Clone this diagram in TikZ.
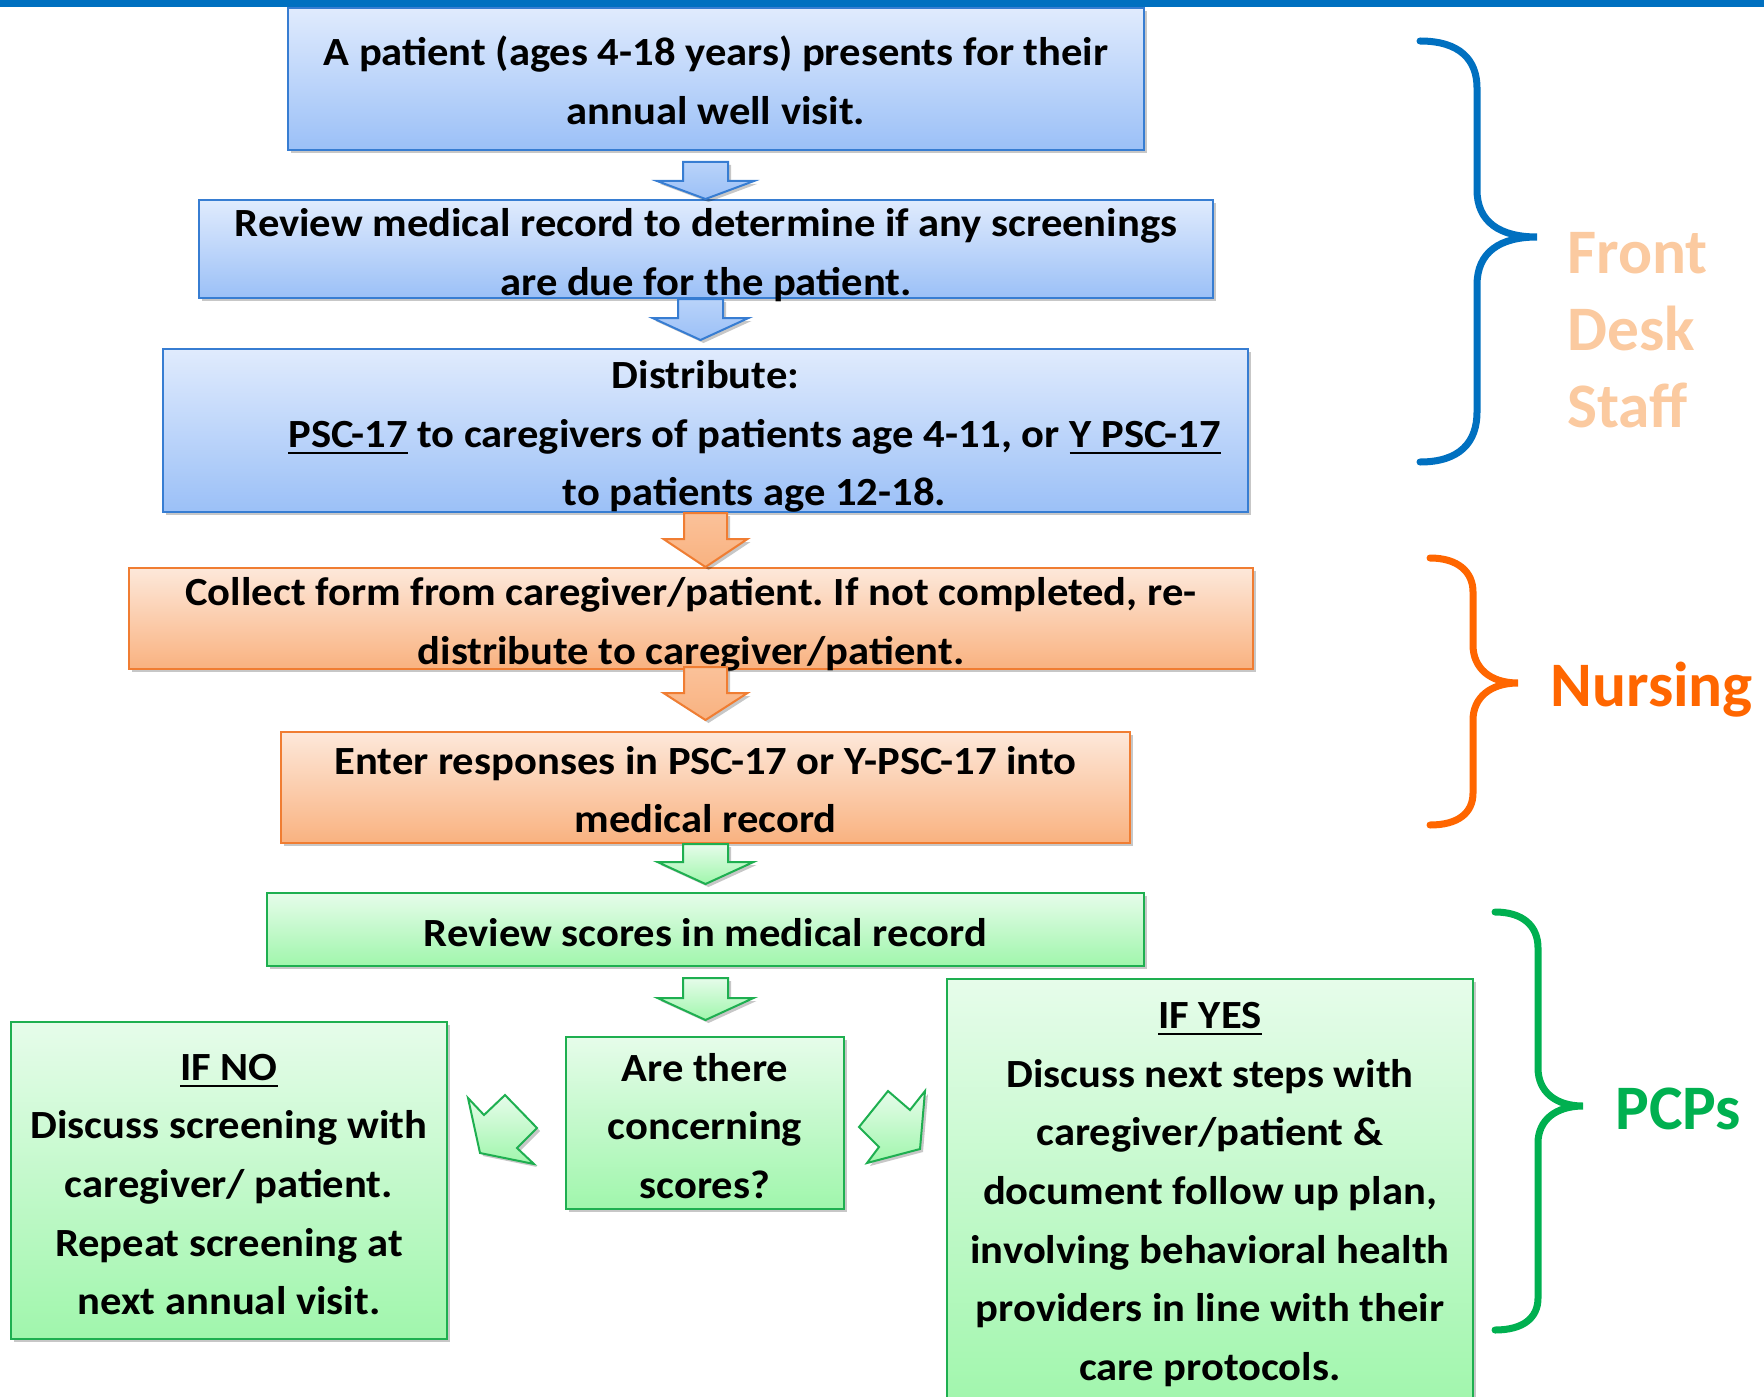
\documentclass[tikz,border=0pt]{standalone}
\usepackage{fontspec}
\setmainfont{Carlito}
\newfontfamily\boxfamily{Carlito}[FakeStretch=1.065]
\usetikzlibrary{calc,shadows}

\definecolor{barblue}{RGB}{0,112,192}
\definecolor{bluedge}{RGB}{55,125,210}
\definecolor{bluetop}{RGB}{224,235,253}
\definecolor{bluebot}{RGB}{155,192,247}
\definecolor{orgedge}{RGB}{240,125,50}
\definecolor{orgtop}{RGB}{253,232,218}
\definecolor{orgbot}{RGB}{249,178,128}
\definecolor{grnedge}{RGB}{30,175,80}
\definecolor{grntop}{RGB}{230,252,234}
\definecolor{grnbot}{RGB}{160,246,172}
\definecolor{braceorange}{RGB}{255,102,0}
\definecolor{bracegreen}{RGB}{0,176,80}
\definecolor{frontpeach}{RGB}{251,202,160}

\newcommand\boxfont{\boxfamily\bfseries\fontsize{20}{29.35}\selectfont\frenchspacing}
\newcommand\labelfont{\bfseries\fontsize{31.7}{38.5}\selectfont}
% thick underline for the form names and branch headings
\newcommand\ulx[1]{\setbox0=\hbox{#1}\leavevmode\rlap{\rule[-3.5pt]{\wd0}{1.2pt}}\box0\relax}

% downward block arrow: style, start point, tip point, head length, shaft half width, head half width
\newcommand\blockarrow[6]{%
  \path[#1] let \p1=#2, \p2=#3 in
    (\x2-#5,\y1) -- (\x2+#5,\y1) -- (\x2+#5,\y2+#4) -- (\x2+#6,\y2+#4)
    -- (\x2,\y2) -- (\x2-#6,\y2+#4) -- (\x2-#5,\y2+#4) -- cycle;}

\tikzset{
  shade/.style={drop shadow={shadow xshift=1.5pt, shadow yshift=-1.5pt, fill=black, opacity=0.22}},
  stepbox/.style={rectangle, inner sep=0pt, line width=1pt, shade},
  steptext/.style={inner sep=0pt, align=center, font=\boxfont},
  bluebox/.style={stepbox, draw=bluedge, top color=bluetop, bottom color=bluebot},
  orgbox/.style={stepbox, draw=orgedge, top color=orgtop, bottom color=orgbot},
  grnbox/.style={stepbox, draw=grnedge, top color=grntop, bottom color=grnbot},
  bluearrow/.style={draw=bluedge, line width=1pt, top color=bluebot!70!white, bottom color=bluebot, shade},
  orgarrow/.style={draw=orgedge, line width=1pt, top color=orgbot!80!white, bottom color=orgbot, shade},
  grnarrow/.style={draw=grnedge, line width=1pt, top color=grntop, bottom color=grnbot, shade},
  brace/.style={line width=3.5pt, line cap=round},
  rolelabel/.style={anchor=base west, font=\labelfont, align=left, inner sep=0pt},
}

\begin{document}
\begin{tikzpicture}[x=0.5pt, y=-0.5pt]
\useasboundingbox (0,0) rectangle (1764,1396);
\clip (0,0) rectangle (1764,1396);

% top rule
\fill[barblue] (0,0) rectangle (1764,7);

% process step boxes
\node[bluebox, minimum width=428pt, minimum height=71pt] (b1) at (716,79) {};
\node[bluebox, minimum width=507pt, minimum height=49pt] (b2) at (706,249) {};
\node[bluebox, minimum width=542.5pt, minimum height=81.5pt] (b3) at (705.5,430.5) {};
\node[orgbox, minimum width=562pt, minimum height=50.5pt] (b4) at (691,618.5) {};
\node[orgbox, minimum width=424.5pt, minimum height=55.5pt] (b5) at (705.5,787.5) {};
\node[grnbox, minimum width=438.5pt, minimum height=36.5pt] (b6) at (705.5,929.5) {};
\node[grnbox, minimum width=139pt, minimum height=86pt] (q) at (705,1123) {};
\node[grnbox, minimum width=218pt, minimum height=158.5pt] (no) at (229,1180.5) {};
\node[grnbox, minimum width=263pt, minimum height=215.5pt] (yes) at (1210,1194.5) {};

% step texts
\node[steptext] (b1t) at ($(b1.center)+(0,1)$)
  {A patient (ages 4-18 years) presents for their\\annual well visit.};
\node[steptext] (b2t) at ($(b2.center)+(0,6)$)
  {Review medical record to determine if any screenings\\are due for the patient.};
\node[steptext] (b3t) at ($(b3.center)+(0,6)$)
  {Distribute:\\\hspace*{49pt}\ulx{PSC-17} to caregivers of patients age 4-11, or \ulx{Y PSC-17}\\\hspace*{49pt}to patients age 12-18.};
\node[steptext] (b4t) at ($(b4.center)+(0,6)$)
  {Collect form from caregiver/patient. If not completed, re-\\distribute to caregiver/patient.};
\node[steptext] (b5t) at ($(b5.center)+(0,2)$)
  {Enter responses in PSC-17 or Y-PSC-17 into\\medical record};
\node[steptext] (b6t) at ($(b6.center)+(0,3)$)
  {Review scores in medical record};
\node[steptext] (qt) at ($(q.center)+(0,3)$)
  {Are there\\concerning\\scores?};
\node[steptext] (not) at ($(no.center)+(0,4)$)
  {\ulx{IF NO}\\Discuss screening with\\caregiver/ patient.\\Repeat screening at\\next annual visit.};
\node[steptext] (yest) at ($(yes.center)+(0,0)$)
  {\ulx{IF YES}\\Discuss next steps with\\caregiver/patient \&\\document follow up plan,\\involving behavioral health\\providers in line with their\\care protocols.};

% block arrows between the steps
\coordinate (spine) at (705.5,0);
\blockarrow{bluearrow}{($(spine|-b1.south)+(0,11)$)}{(spine|-b2.north)}{9pt}{11.25pt}{24.25pt}
\blockarrow{bluearrow}{($(spine|-b2.south)+(-5,0)$)}{($(spine|-b3.north)+(-5,-8)$)}{11pt}{11.25pt}{24pt}
\blockarrow{orgarrow}{(spine|-b3.south)}{(spine|-b4.north)}{14pt}{10.75pt}{21pt}
\blockarrow{orgarrow}{($(spine|-b4.south)+(0,-3)$)}{($(spine|-b5.north)+(0,-11)$)}{13.5pt}{10.75pt}{21pt}
\blockarrow{grnarrow}{(spine|-b5.south)}{($(spine|-b6.north)+(0,-8)$)}{11pt}{11.25pt}{24pt}
\blockarrow{grnarrow}{($(spine|-b6.south)+(0,11)$)}{($(spine|-q.north)+(0,-16)$)}{11pt}{11.25pt}{24pt}

% branch arrows out of the decision
\path[grnarrow] (468,1098) -- (484,1115) -- (505,1095) -- (537,1128) -- (517,1148) -- (534,1164) -- (480,1153) -- cycle;
\path[grnarrow] (925,1091) -- (910,1110) -- (888,1091) -- (859,1127) -- (879,1147) -- (867,1163) -- (920,1149) -- cycle;

% role braces
\draw[brace, barblue] (1420,41) .. controls (1460,41) and (1477,60) .. (1477,88) -- (1477,190)
  .. controls (1477,222) and (1500,237) .. (1537,237)
  .. controls (1500,237) and (1477,252) .. (1477,285) -- (1477,412)
  .. controls (1477,442) and (1460,462) .. (1420,462);
\draw[brace, braceorange] (1430,558) .. controls (1458,558) and (1473,572) .. (1473,592) -- (1473,645)
  .. controls (1473,668) and (1490,683) .. (1518,683)
  .. controls (1490,683) and (1473,698) .. (1473,720) -- (1473,793)
  .. controls (1473,813) and (1458,825) .. (1430,825);
\draw[brace, bracegreen] (1495,912) .. controls (1523,912) and (1538,926) .. (1538,948) -- (1538,1068)
  .. controls (1538,1092) and (1556,1106) .. (1583,1106)
  .. controls (1556,1106) and (1538,1120) .. (1538,1143) -- (1538,1298)
  .. controls (1538,1318) and (1523,1330) .. (1495,1330);

% role labels (multi-line label sits on its last baseline)
\node[rolelabel, text=frontpeach] (fds) at (1567,427) {Front\\Desk\\Staff};
\node[rolelabel, text=braceorange] (nur) at (1550,706) {Nursing};
\node[rolelabel, text=bracegreen] (pcp) at (1615,1129) {PCPs};
\end{tikzpicture}
\end{document}
